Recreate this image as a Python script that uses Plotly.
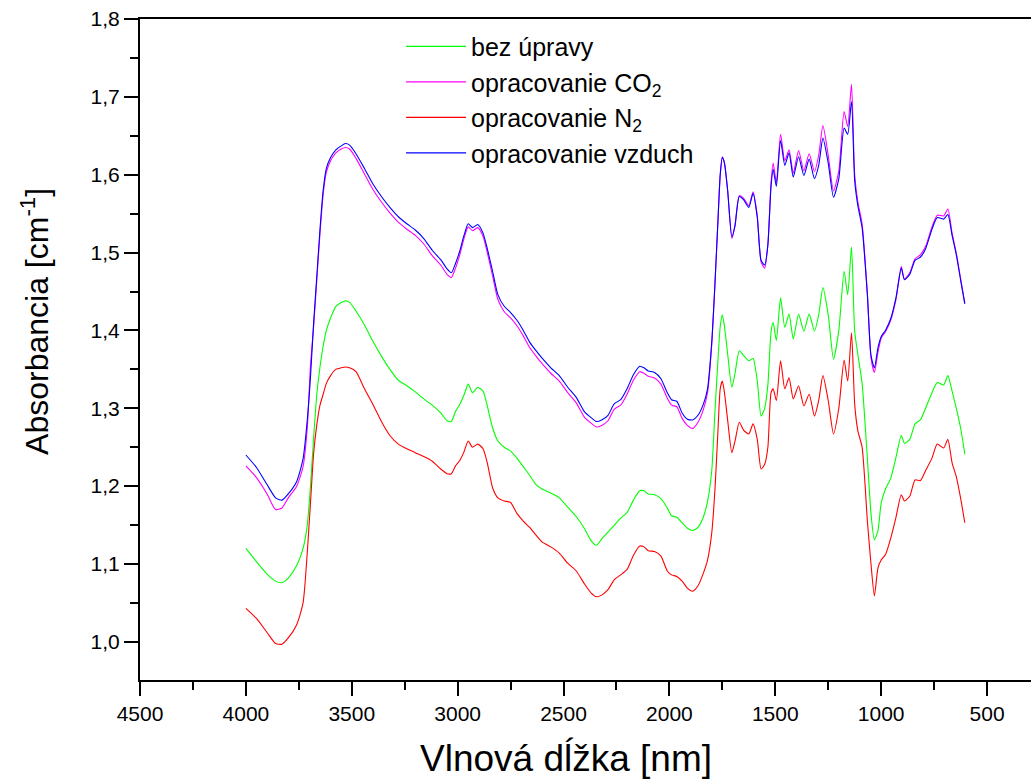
import plotly.graph_objects as go

wavenumber = [
    4000, 3950, 3900, 3860, 3830, 3800, 3760, 3730, 3710, 3695,
    3680, 3665, 3650, 3635, 3620, 3600, 3575, 3550, 3530, 3510,
    3480, 3440, 3400, 3360, 3320, 3280, 3240, 3200, 3160, 3120,
    3080, 3050, 3030, 3010, 2990, 2970, 2950, 2930, 2905, 2880,
    2860, 2835, 2810, 2780, 2750, 2720, 2690, 2660, 2630, 2600,
    2560, 2520, 2480, 2440, 2400, 2370, 2345, 2320, 2290, 2260,
    2230, 2200, 2170, 2140, 2120, 2100, 2070, 2040, 2010, 1990,
    1965, 1940, 1915, 1890, 1865, 1840, 1820, 1800, 1785, 1770,
    1760, 1750, 1740, 1725, 1705, 1690, 1670, 1650, 1625, 1605,
    1585, 1567, 1550, 1535, 1520, 1510, 1495, 1475, 1455, 1435,
    1415, 1390, 1365, 1340, 1315, 1295, 1275, 1250, 1225, 1200,
    1175, 1158, 1140, 1125, 1110, 1090, 1065, 1048, 1032, 1015,
    1000, 980, 955, 930, 905, 890, 865, 840, 815, 790,
    760, 735, 705, 685, 665, 645, 625, 605,
]

bez_upravy = [
    1.120, 1.103, 1.087, 1.078, 1.076, 1.082, 1.098, 1.120, 1.150, 1.200,
    1.262, 1.318, 1.353, 1.380, 1.400, 1.416, 1.431, 1.436, 1.438, 1.436,
    1.425, 1.407, 1.386, 1.367, 1.350, 1.336, 1.329, 1.321, 1.312, 1.304,
    1.294, 1.284, 1.283, 1.296, 1.305, 1.317, 1.331, 1.320, 1.327, 1.322,
    1.303, 1.275, 1.258, 1.250, 1.245, 1.236, 1.225, 1.214, 1.202, 1.196,
    1.191, 1.185, 1.173, 1.161, 1.145, 1.130, 1.124, 1.132, 1.141, 1.150,
    1.159, 1.166, 1.182, 1.194, 1.194, 1.190, 1.189, 1.184, 1.172, 1.162,
    1.160, 1.153, 1.146, 1.143, 1.147, 1.160, 1.180, 1.220, 1.295, 1.365,
    1.405, 1.420, 1.405, 1.370, 1.327, 1.345, 1.374, 1.368, 1.361, 1.364,
    1.335, 1.290, 1.300, 1.330, 1.398, 1.410, 1.387, 1.442, 1.404, 1.421,
    1.389, 1.421, 1.399, 1.421, 1.399, 1.420, 1.455, 1.420, 1.363, 1.400,
    1.476, 1.446, 1.507, 1.399, 1.369, 1.332, 1.235, 1.165, 1.131, 1.143,
    1.178, 1.196, 1.210, 1.237, 1.265, 1.255, 1.260, 1.280, 1.285, 1.300,
    1.320, 1.333, 1.330, 1.342, 1.322, 1.300, 1.275, 1.241,
]

co2 = [
    1.226, 1.211, 1.190, 1.170, 1.172, 1.185, 1.200, 1.225, 1.275, 1.355,
    1.405, 1.465, 1.525, 1.575, 1.603, 1.618, 1.628, 1.633, 1.635, 1.633,
    1.621, 1.601, 1.581, 1.565, 1.551, 1.539, 1.530, 1.522, 1.511, 1.496,
    1.484, 1.472, 1.468, 1.480, 1.497, 1.518, 1.533, 1.528, 1.532, 1.521,
    1.500, 1.470, 1.440, 1.424, 1.416, 1.406, 1.393, 1.378, 1.367, 1.357,
    1.345, 1.335, 1.320, 1.307, 1.288, 1.281, 1.276, 1.278, 1.284, 1.299,
    1.304, 1.318, 1.336, 1.347, 1.345, 1.341, 1.339, 1.331, 1.313, 1.304,
    1.302, 1.287, 1.278, 1.274, 1.282, 1.298, 1.320, 1.382, 1.458, 1.545,
    1.600, 1.623, 1.615, 1.580, 1.518, 1.535, 1.573, 1.570, 1.560, 1.578,
    1.547, 1.488, 1.480, 1.510, 1.590, 1.615, 1.590, 1.652, 1.618, 1.632,
    1.602, 1.631, 1.605, 1.627, 1.604, 1.625, 1.663, 1.625, 1.579, 1.605,
    1.681, 1.662, 1.716, 1.600, 1.565, 1.537, 1.447, 1.365, 1.346, 1.372,
    1.390, 1.398, 1.413, 1.440, 1.482, 1.466, 1.474, 1.492, 1.497, 1.508,
    1.533, 1.548, 1.547, 1.556, 1.525, 1.499, 1.467, 1.435,
]

n2 = [
    1.043, 1.030, 1.012, 0.998, 0.997, 1.005, 1.022, 1.050, 1.115, 1.178,
    1.242, 1.279, 1.304, 1.318, 1.332, 1.342, 1.350, 1.352, 1.353, 1.352,
    1.347, 1.325, 1.305, 1.283, 1.265, 1.254, 1.248, 1.243, 1.238, 1.232,
    1.222, 1.216, 1.216, 1.226, 1.233, 1.244, 1.258, 1.250, 1.254, 1.248,
    1.230, 1.198, 1.185, 1.181, 1.179, 1.165, 1.155, 1.147, 1.137, 1.128,
    1.122, 1.114, 1.101, 1.091, 1.074, 1.063, 1.058, 1.060, 1.067, 1.080,
    1.086, 1.093, 1.111, 1.123, 1.122, 1.117, 1.116, 1.110, 1.091, 1.086,
    1.084, 1.078, 1.069, 1.065, 1.072, 1.088, 1.105, 1.140, 1.195, 1.275,
    1.325, 1.335, 1.320, 1.285, 1.243, 1.258, 1.282, 1.272, 1.267, 1.280,
    1.260, 1.222, 1.228, 1.250, 1.320, 1.325, 1.310, 1.361, 1.325, 1.339,
    1.312, 1.329, 1.303, 1.318, 1.290, 1.310, 1.342, 1.310, 1.267, 1.300,
    1.362, 1.335, 1.397, 1.305, 1.271, 1.250, 1.155, 1.100, 1.059, 1.095,
    1.105, 1.112, 1.133, 1.160, 1.189, 1.181, 1.187, 1.208, 1.207, 1.220,
    1.236, 1.254, 1.249, 1.260, 1.230, 1.212, 1.185, 1.153,
]

vzduch = [
    1.240, 1.224, 1.202, 1.185, 1.182, 1.190, 1.206, 1.235, 1.285, 1.340,
    1.410, 1.470, 1.530, 1.580, 1.608, 1.622, 1.632, 1.637, 1.640, 1.638,
    1.627, 1.608, 1.588, 1.572, 1.558, 1.546, 1.537, 1.529, 1.518, 1.503,
    1.491, 1.479, 1.474, 1.486, 1.502, 1.522, 1.537, 1.532, 1.536, 1.525,
    1.505, 1.476, 1.446, 1.431, 1.423, 1.413, 1.400, 1.385, 1.374, 1.364,
    1.352, 1.342, 1.327, 1.314, 1.295, 1.288, 1.283, 1.285, 1.291, 1.306,
    1.311, 1.325, 1.343, 1.354, 1.352, 1.348, 1.346, 1.338, 1.320, 1.311,
    1.309, 1.294, 1.286, 1.285, 1.291, 1.305, 1.325, 1.385, 1.460, 1.545,
    1.600, 1.622, 1.615, 1.580, 1.520, 1.535, 1.572, 1.568, 1.558, 1.576,
    1.545, 1.490, 1.484, 1.510, 1.585, 1.607, 1.585, 1.644, 1.612, 1.628,
    1.597, 1.623, 1.599, 1.620, 1.595, 1.612, 1.647, 1.615, 1.571, 1.595,
    1.660, 1.652, 1.694, 1.592, 1.560, 1.532, 1.445, 1.368, 1.352, 1.378,
    1.392, 1.400, 1.415, 1.442, 1.480, 1.465, 1.472, 1.490, 1.494, 1.505,
    1.530, 1.545, 1.543, 1.549, 1.522, 1.497, 1.465, 1.434,
]

series = [
    ("bez úpravy", bez_upravy, "#00ff00"),
    ("opracovanie CO<sub>2</sub>", co2, "#ff00ff"),
    ("opracovanie N<sub>2</sub>", n2, "#ff0000"),
    ("opracovanie vzduch", vzduch, "#0000ff"),
]

x_title = "Vlnová dĺžka [nm]"
y_title = "Absorbancia [cm<sup>-1</sup>]"

FONT = "Arial, Liberation Sans, sans-serif"

fig = go.Figure()
for name, vals, col in series:
    fig.add_trace(go.Scatter(
        x=wavenumber, y=vals, name=name, mode="lines",
        line=dict(color=col, width=1.1, shape="spline", smoothing=0.6),
    ))

fig.update_layout(
    width=1031, height=781,
    margin=dict(l=140, r=0, t=19, b=101),
    paper_bgcolor="white", plot_bgcolor="white",
    separators=",.",
    font=dict(family=FONT, color="black", size=20),
    showlegend=True,
    legend=dict(
        x=0.293, y=0.993, xanchor="left", yanchor="top",
        bgcolor="rgba(0,0,0,0)", font=dict(size=25, family=FONT),
        tracegroupgap=0, itemwidth=60,
    ),
    annotations=[
        dict(text=x_title, xref="paper", yref="paper", x=0.478, y=-0.1525,
             xanchor="center", yanchor="bottom", showarrow=False,
             font=dict(size=37, family=FONT, color="black")),
        dict(text=y_title, xref="paper", yref="paper", x=-0.118, y=0.543,
             xanchor="center", yanchor="middle", showarrow=False, textangle=-90,
             font=dict(size=32, family=FONT, color="black")),
    ],
)

fig.update_xaxes(
    range=[4500, 292.4], showgrid=False, zeroline=False,
    showline=True, linecolor="black", linewidth=2, mirror=True,
    ticks="outside", ticklen=14, tickwidth=2, tickcolor="black",
    dtick=500, tick0=500,
    minor=dict(ticks="outside", ticklen=8, tickwidth=2, tickcolor="black", dtick=250, tick0=500),
    tickfont=dict(size=21, family=FONT),
)
fig.update_yaxes(
    range=[0.951, 1.8], showgrid=False, zeroline=False,
    showline=True, linecolor="black", linewidth=2,
    ticks="outside", ticklen=14, tickwidth=2, tickcolor="black",
    dtick=0.1, tick0=1.0, tickformat=".1f",
    minor=dict(ticks="outside", ticklen=8, tickwidth=2, tickcolor="black", dtick=0.05, tick0=1.0),
    tickfont=dict(size=21, family=FONT),
)

fig.write_html("out.html")
